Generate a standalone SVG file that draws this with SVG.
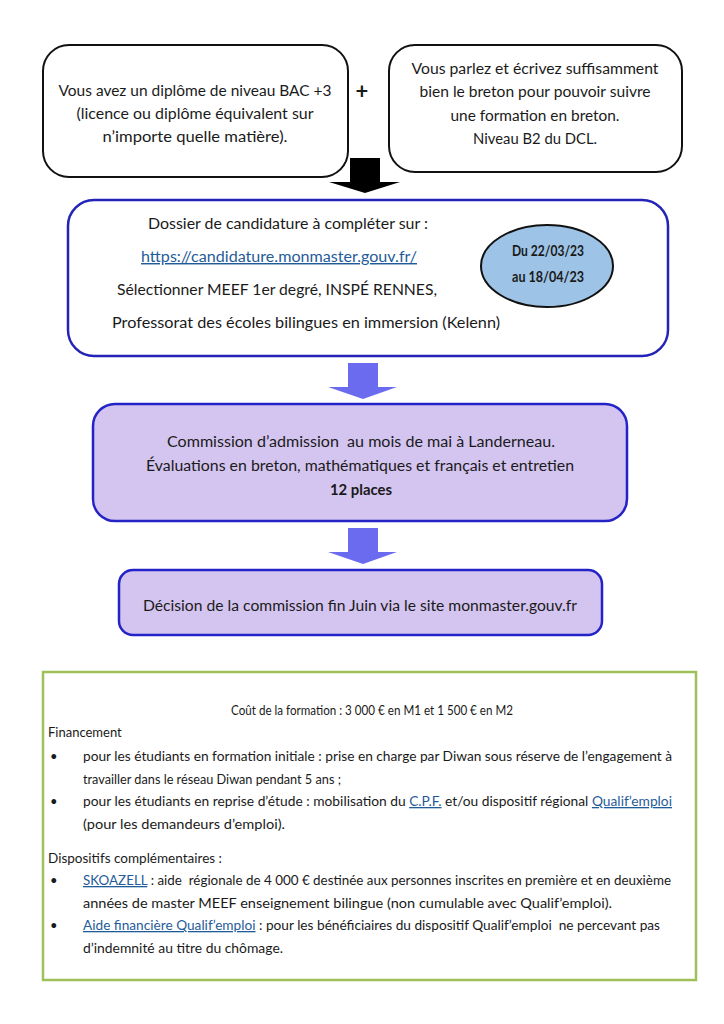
<svg xmlns="http://www.w3.org/2000/svg" width="724" height="1024" viewBox="0 0 724 1024">
<style>
text{font-family:Lato,"Open Sans","Liberation Sans",sans-serif;font-size:14.5px;fill:#1a1a1a}
.c{text-anchor:middle}
.b{font-weight:bold}
.s{font-size:13px}
.lk{fill:#1f5c99;text-decoration:underline}
.bx{fill:#fff;stroke:#111;stroke-width:2}
.bb{fill:#fff;stroke:#2323b8;stroke-width:2.5}
.bl{fill:#d4c4f0;stroke:#2323c8;stroke-width:2.5}
.ar{fill:#6b6bf0}
</style>
<rect width="724" height="1024" fill="#fff"/>
<g id="connectors">
<polygon points="350,158 380,158 380,182 400,182 365,193 329,182 350,182" fill="#000"/>
<polygon class="ar" points="348,363 378,363 378,387 397,387 363,399 328,387 348,387"/>
<polygon class="ar" points="348,528 378,528 378,552 397,552 363,564 328,552 348,552"/>
</g>
<g id="node-diplome">
<rect class="bx" x="43" y="45" width="305" height="132" rx="26"/>
<text class="c" x="195" y="96" textLength="273" lengthAdjust="spacingAndGlyphs">Vous avez un diplôme de niveau BAC +3</text>
<text class="c" x="195" y="119" textLength="237" lengthAdjust="spacingAndGlyphs">(licence ou diplôme équivalent sur</text>
<text class="c" x="195" y="142" textLength="185" lengthAdjust="spacingAndGlyphs">n’importe quelle matière).</text>
</g>
<g id="plus">
<text class="c b" x="362" y="99" style="font-size:22px">+</text>
</g>
<g id="node-breton">
<rect class="bx" x="389" y="45" width="293" height="127" rx="26"/>
<text class="c" x="535" y="74" textLength="247" lengthAdjust="spacingAndGlyphs">Vous parlez et écrivez suffisamment</text>
<text class="c" x="535" y="97" textLength="231" lengthAdjust="spacingAndGlyphs">bien le breton pour pouvoir suivre</text>
<text class="c" x="535" y="121" textLength="169" lengthAdjust="spacingAndGlyphs">une formation en breton.</text>
<text class="c" x="535" y="144" textLength="124" lengthAdjust="spacingAndGlyphs">Niveau B2 du DCL.</text>
</g>
<g id="node-dossier">
<rect class="bb" x="68" y="200" width="600" height="156" rx="26"/>
<text class="c" x="288" y="229" textLength="280" lengthAdjust="spacingAndGlyphs">Dossier de candidature à compléter sur :</text>
<text class="c lk" x="279" y="262" textLength="276" lengthAdjust="spacingAndGlyphs">https://candidature.monmaster.gouv.fr/</text>
<text class="c" x="277" y="295" textLength="320" lengthAdjust="spacingAndGlyphs">Sélectionner MEEF 1er degré, INSPÉ RENNES,</text>
<text class="c" x="306" y="328" textLength="388" lengthAdjust="spacingAndGlyphs">Professorat des écoles bilingues en immersion (Kelenn)</text>
</g>
<g id="node-dates">
<ellipse cx="547" cy="266" rx="66" ry="41" fill="#9dc3e6" stroke="#111" stroke-width="2"/>
<text class="c b" x="548" y="256" style="font-size:15px" textLength="72" lengthAdjust="spacingAndGlyphs">Du 22/03/23</text>
<text class="c b" x="548" y="282" style="font-size:15px" textLength="72" lengthAdjust="spacingAndGlyphs">au 18/04/23</text>
</g>
<g id="node-commission">
<rect class="bl" x="93" y="404" width="534" height="117" rx="22"/>
<text class="c" x="361" y="447" textLength="388" lengthAdjust="spacingAndGlyphs">Commission d’admission&#160; au mois de mai à Landerneau.</text>
<text class="c" x="360" y="471" textLength="428" lengthAdjust="spacingAndGlyphs">Évaluations en breton, mathématiques et français et entretien</text>
<text class="c b" x="361" y="495" textLength="62" lengthAdjust="spacingAndGlyphs">12 places</text>
</g>
<g id="node-decision">
<rect class="bl" x="119" y="570" width="483" height="65" rx="14"/>
<text class="c" x="360" y="611" textLength="434" lengthAdjust="spacingAndGlyphs">Décision de la commission fin Juin via le site monmaster.gouv.fr</text>
</g>
<g id="node-financement">
<rect x="43" y="672" width="653" height="308" fill="#fff" stroke="#9fbf5a" stroke-width="2.5"/>
<text class="c s" x="372" y="715" textLength="282" lengthAdjust="spacingAndGlyphs">Coût de la formation : 3 000 € en M1 et 1 500 € en M2</text>
<text class="s" x="48" y="737">Financement</text>
<text class="s" x="50" y="761">•</text>
<text class="s" x="83" y="761" textLength="589" lengthAdjust="spacingAndGlyphs">pour les étudiants en formation initiale : prise en charge par Diwan sous réserve de l’engagement à</text>
<text class="s" x="83" y="784" textLength="258" lengthAdjust="spacingAndGlyphs">travailler dans le réseau Diwan pendant 5 ans ;</text>
<text class="s" x="50" y="806">•</text>
<text class="s" x="83" y="806" textLength="589" lengthAdjust="spacingAndGlyphs">pour les étudiants en reprise d’étude : mobilisation du <tspan class="lk">C.P.F.</tspan> et/ou dispositif régional <tspan class="lk">Qualif’emploi</tspan></text>
<text class="s" x="83" y="829" textLength="202" lengthAdjust="spacingAndGlyphs">(pour les demandeurs d’emploi).</text>
<text class="s" x="48" y="863" textLength="174" lengthAdjust="spacingAndGlyphs">Dispositifs complémentaires :</text>
<text class="s" x="50" y="885">•</text>
<text class="s" x="83" y="885" textLength="588" lengthAdjust="spacingAndGlyphs"><tspan class="lk">SKOAZELL</tspan> : aide&#160; régionale de 4 000 € destinée aux personnes inscrites en première et en deuxième</text>
<text class="s" x="83" y="908" textLength="529" lengthAdjust="spacingAndGlyphs">années de master MEEF enseignement bilingue (non cumulable avec Qualif’emploi).</text>
<text class="s" x="50" y="930">•</text>
<text class="s" x="83" y="930" textLength="577" lengthAdjust="spacingAndGlyphs"><tspan class="lk">Aide financière Qualif’emploi</tspan> : pour les bénéficiaires du dispositif Qualif’emploi&#160; ne percevant pas</text>
<text class="s" x="83" y="953" textLength="200" lengthAdjust="spacingAndGlyphs">d’indemnité au titre du chômage.</text>
</g>
</svg>
